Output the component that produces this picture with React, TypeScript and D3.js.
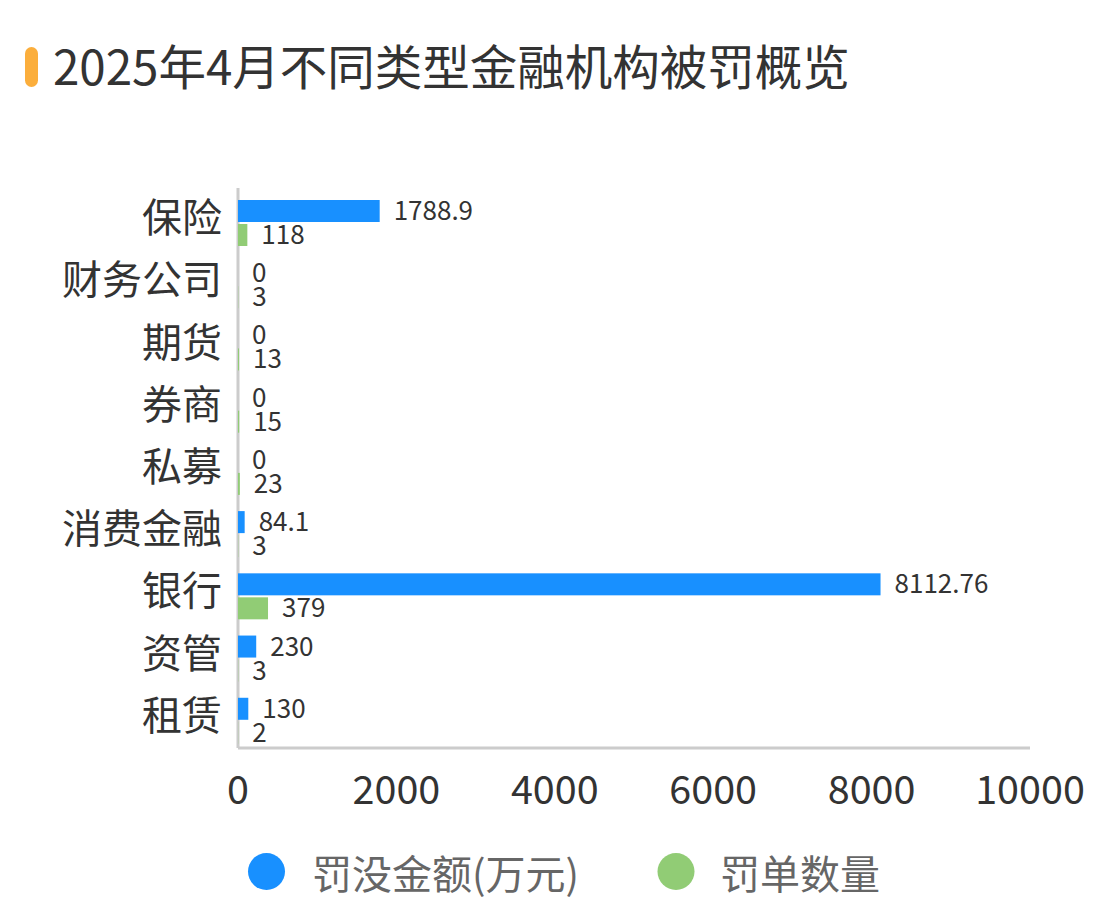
import React from 'react';
import * as d3 from 'd3';

const categories = ['保险', '财务公司', '期货', '券商', '私募', '消费金融', '银行', '资管', '租赁'];
const fineAmounts = [1788.9, 0, 0, 0, 0, 84.1, 8112.76, 230, 130];
const fineCounts = [118, 3, 13, 15, 23, 3, 379, 3, 2];
const xTicks = [0, 2000, 4000, 6000, 8000, 10000];
const seriesNames = ['罚没金额(万元)', '罚单数量'];
const COLORS = ['#1890FF', '#91CC75'];

const FONT = "'Noto Sans CJK SC', 'Noto Sans', sans-serif";

export default function App() {
  const width = 1107;
  const height = 917;
  const margin = { top: 188, right: 77, bottom: 169, left: 238 };

  const x = d3.scaleLinear()
    .domain([0, 10000])
    .range([margin.left, width - margin.right]);

  const y = d3.scaleBand()
    .domain(categories)
    .range([margin.top, height - margin.bottom]);

  const barH = 22;
  const off1 = 12;
  const off2 = 36;

  return (
    <svg
      width={width}
      height={height}
      style={{ position: 'absolute', left: 0, top: 0, background: '#fff' }}
      fontFamily={FONT}
    >
      {/* title */}
      <rect x={25} y={47} width={13} height={40} rx={6.5} fill="#FBAE3C" />
      <text x={53} y={85} fontSize={47.5} fill="#333">2025年4月不同类型金融机构被罚概览</text>

      {/* axes */}
      <line x1={x(0)} x2={x(0)} y1={margin.top} y2={height - margin.bottom} stroke="#ccc" strokeWidth={3} />
      <line x1={x(0)} x2={x(10000)} y1={height - margin.bottom} y2={height - margin.bottom} stroke="#ccc" strokeWidth={3} />

      {xTicks.map(t => (
        <text key={t} x={x(t)} y={804} fontSize={39.5} fill="#333" textAnchor="middle">{t}</text>
      ))}

      {categories.map(c => (
        <text key={c} x={222} y={y(c)! + y.bandwidth() / 2 + 13} fontSize={40} fill="#333" textAnchor="end">{c}</text>
      ))}

      {/* bars */}
      {categories.map((c, i) => (
        <g key={c}>
          <rect x={x(0)} y={y(c)! + off1} width={x(fineAmounts[i]) - x(0)} height={barH} fill={COLORS[0]} />
          <rect x={x(0)} y={y(c)! + off2} width={x(fineCounts[i]) - x(0)} height={barH} fill={COLORS[1]} />
          <text x={x(fineAmounts[i]) + 14} y={y(c)! + off1 + barH / 2 + 9} fontSize={26} fill="#333">{fineAmounts[i]}</text>
          <text x={x(fineCounts[i]) + 14} y={y(c)! + off2 + barH / 2 + 9} fontSize={26} fill="#333">{fineCounts[i]}</text>
        </g>
      ))}

      {/* legend */}
      <circle cx={266.5} cy={871.5} r={18.5} fill={COLORS[0]} />
      <text x={312} y={889} fontSize={40} fill="#666">{seriesNames[0]}</text>
      <circle cx={676} cy={871.5} r={18.5} fill={COLORS[1]} />
      <text x={720} y={889} fontSize={40} fill="#666">{seriesNames[1]}</text>
    </svg>
  );
}
